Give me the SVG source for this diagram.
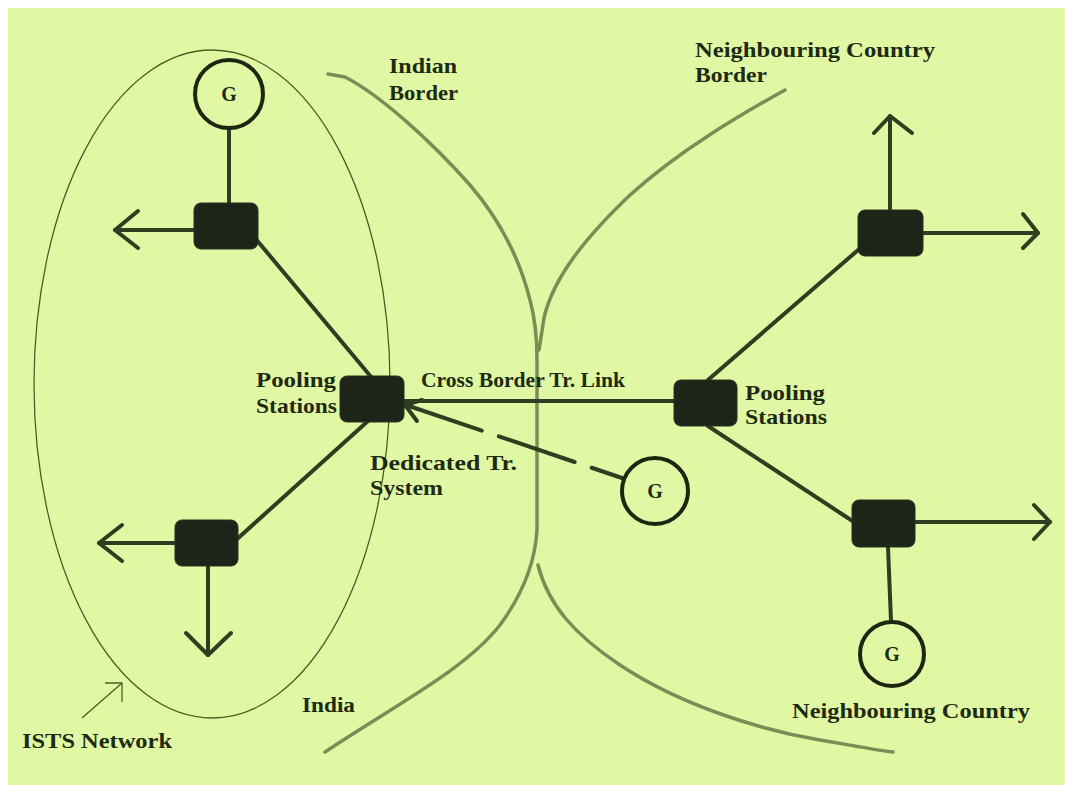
<svg xmlns="http://www.w3.org/2000/svg" width="1065" height="785" viewBox="0 0 1065 785">
<style>
.lbl{font-family:"Liberation Serif",serif;font-weight:bold;font-size:21px;fill:#1e2a12}
.g{font-family:"Liberation Serif",serif;font-weight:bold;font-size:20px;fill:#1e2a12;text-anchor:middle}
.box{fill:#1e2418;stroke:#2a3320;stroke-width:1}
.circ{fill:none;stroke:#1e2612;stroke-width:4}
.ln{fill:none;stroke:#2f3d20;stroke-width:4;stroke-linecap:round;stroke-linejoin:round}
.bd{fill:none;stroke:#7b8c55;stroke-width:3.5;stroke-linecap:round;stroke-linejoin:round}
.thin{fill:none;stroke:#4d5e25;stroke-width:1.3}
</style>
<rect width="1065" height="785" fill="#ffffff"/>
<rect x="8" y="8" width="1057" height="777" fill="#e0f8a4"/>

<g id="borders">
<path class="bd" d="M328,74 L345,77 C380,95 430,140 470,185 C500,220 520,260 530,300 C536,322 537,340 537,360 L537,530 C535,565 522,595 500,625 C465,670 395,705 325,752"/>
<path class="bd" d="M785,90 C740,115 680,150 630,195 C585,238 553,278 544,318 L539,350"/>
<path class="bd" d="M538,565 C548,605 575,635 620,665 C680,705 760,730 820,740 C850,745 875,750 893,752"/>
</g>

<g id="ists-network">
<ellipse class="thin" cx="212" cy="384" rx="178" ry="334"/>
</g>

<g id="connectors">
<line class="ln" x1="229" y1="128" x2="229" y2="204"/>
<line class="ln" x1="194" y1="230" x2="115" y2="230"/>
<polyline class="ln" points="138,211 115,230 138,248"/>
<line class="ln" x1="255" y1="238" x2="372" y2="378"/>
<line class="ln" x1="236" y1="540" x2="368" y2="421"/>
<line class="ln" x1="176" y1="543" x2="99" y2="543"/>
<polyline class="ln" points="122,525 99,543 122,561"/>
<line class="ln" x1="208" y1="566" x2="208" y2="655"/>
<polyline class="ln" points="186,633 208,655 231,633"/>
<line class="ln" x1="404" y1="401" x2="674" y2="401"/>
<line class="ln" x1="406" y1="405" x2="622" y2="478" stroke-dasharray="80 18" stroke-linecap="butt"/>
<polyline class="ln" points="422,400 405,405 417,421"/>
<line class="ln" x1="708" y1="380" x2="865" y2="244"/>
<line class="ln" x1="708" y1="426" x2="854" y2="522"/>
<line class="ln" x1="890" y1="210" x2="890" y2="116"/>
<polyline class="ln" points="874,133 890,116 912,133"/>
<line class="ln" x1="923" y1="233" x2="1038" y2="233"/>
<polyline class="ln" points="1023,214 1038,233 1023,248"/>
<line class="ln" x1="915" y1="522" x2="1050" y2="522"/>
<polyline class="ln" points="1034,505 1050,522 1034,539"/>
<line class="ln" x1="888" y1="547" x2="891" y2="621"/>
<line class="thin" x1="82" y1="718" x2="122" y2="683"/>
<polyline class="thin" points="105,683 122,683 122,702"/>
</g>

<g id="gen-top"><circle class="circ" cx="229" cy="94" r="34"/><text class="g" x="229" y="101">G</text></g>
<g id="box-top-left"><rect class="box" x="194" y="203" width="64" height="46" rx="7"/></g>
<g id="pool-india"><rect class="box" x="340" y="376" width="64" height="46" rx="7"/></g>
<g id="box-bottom-left"><rect class="box" x="175" y="520" width="63" height="46" rx="7"/></g>
<g id="gen-dedicated"><circle class="circ" cx="655" cy="491" r="33"/><text class="g" x="655" y="498">G</text></g>
<g id="pool-neighbour"><rect class="box" x="674" y="380" width="63" height="46" rx="7"/></g>
<g id="box-top-right"><rect class="box" x="858" y="210" width="65" height="46" rx="7"/></g>
<g id="box-bottom-right"><rect class="box" x="852" y="500" width="63" height="47" rx="7"/></g>
<g id="gen-neighbour"><circle class="circ" cx="892" cy="654" r="32"/><text class="g" x="892" y="661">G</text></g>

<g id="labels">
<text class="lbl" x="389" y="73" textLength="68" lengthAdjust="spacingAndGlyphs">Indian</text>
<text class="lbl" x="389" y="100" textLength="69" lengthAdjust="spacingAndGlyphs">Border</text>
<text class="lbl" x="695" y="57" textLength="240" lengthAdjust="spacingAndGlyphs">Neighbouring Country</text>
<text class="lbl" x="695" y="82" textLength="72" lengthAdjust="spacingAndGlyphs">Border</text>
<text class="lbl" x="256" y="387" textLength="80" lengthAdjust="spacingAndGlyphs">Pooling</text>
<text class="lbl" x="256" y="413" textLength="81" lengthAdjust="spacingAndGlyphs">Stations</text>
<text class="lbl" x="421" y="387" textLength="204" lengthAdjust="spacingAndGlyphs">Cross Border Tr. Link</text>
<text class="lbl" x="370" y="470" textLength="147" lengthAdjust="spacingAndGlyphs">Dedicated Tr.</text>
<text class="lbl" x="370" y="495" textLength="73" lengthAdjust="spacingAndGlyphs">System</text>
<text class="lbl" x="745" y="400" textLength="80" lengthAdjust="spacingAndGlyphs">Pooling</text>
<text class="lbl" x="745" y="424" textLength="82" lengthAdjust="spacingAndGlyphs">Stations</text>
<text class="lbl" x="302" y="712" textLength="53" lengthAdjust="spacingAndGlyphs">India</text>
<text class="lbl" x="22" y="748" textLength="150" lengthAdjust="spacingAndGlyphs">ISTS Network</text>
<text class="lbl" x="792" y="718" textLength="238" lengthAdjust="spacingAndGlyphs">Neighbouring Country</text>
</g>
</svg>
